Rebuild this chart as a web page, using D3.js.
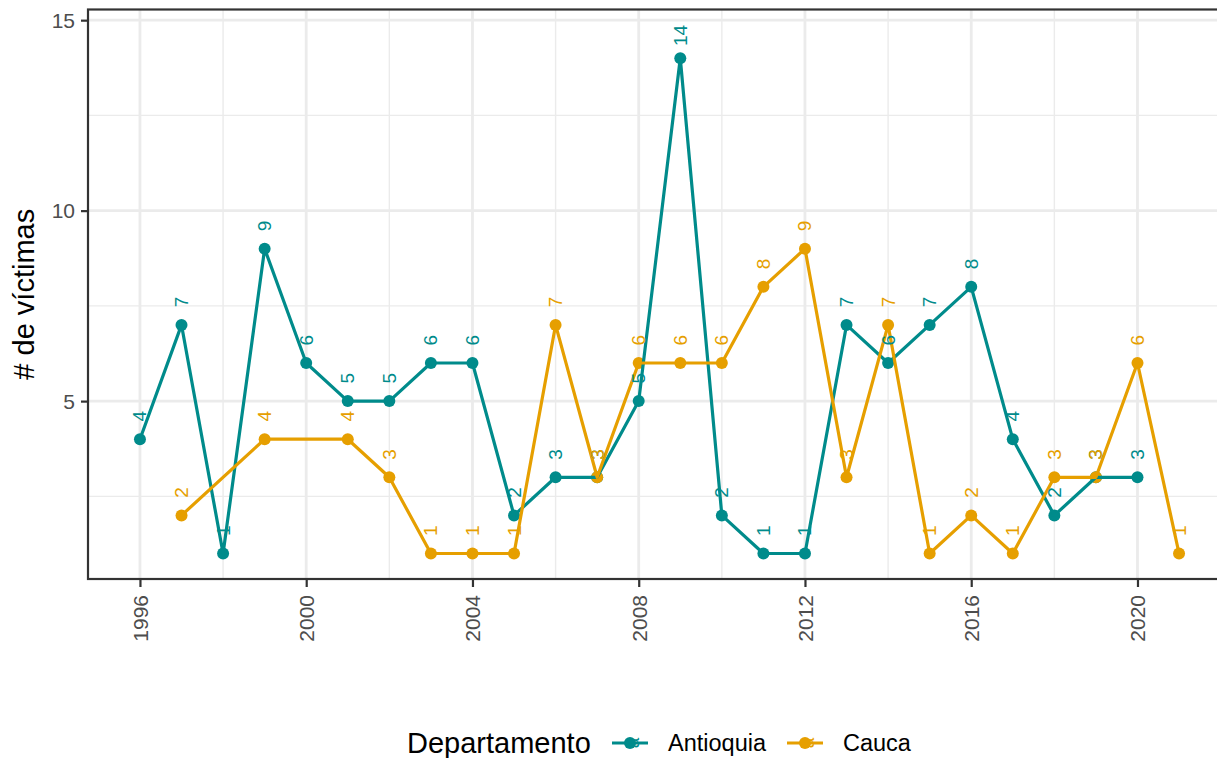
<!DOCTYPE html>
<html><head><meta charset="utf-8">
<script src="https://cdn.jsdelivr.net/npm/d3@7"></script>
<style>body{margin:0;background:#fff} svg{display:block}</style>
</head><body>
<script>
const antioquiaYears = [1996,1997,1998,1999,2000,2001,2002,2003,2004,2005,2006,2007,2008,2009,2010,2011,2012,2013,2014,2015,2016,2017,2018,2019,2020];
const antioquiaValues = [4,7,1,9,6,5,5,6,6,2,3,3,5,14,2,1,1,7,6,7,8,4,2,3,3];
const caucaYears = [1997,1999,2001,2002,2003,2004,2005,2006,2007,2008,2009,2010,2011,2012,2013,2014,2015,2016,2017,2018,2019,2020,2021];
const caucaValues = [2,4,4,3,1,1,1,7,3,6,6,6,8,9,3,7,1,2,1,3,3,6,1];
const seriesNames = ["Antioquia","Cauca"];
const seriesColors = ["#008B8B","#E69F00"];
const xTicks = [1996,2000,2004,2008,2012,2016,2020];
const xMinorTicks = [1998,2002,2006,2010,2014,2018,2022];
const yTicks = [5,10,15];
const yMinorTicks = [2.5,7.5,12.5];
const legendTitle = "Departamento";
const yTitle = "# de víctimas";

const W = 1217, H = 758;
const FONT = "'Liberation Sans', Arial, Helvetica, sans-serif";
const svg = d3.select("body").append("svg").attr("width", W).attr("height", H)
  .style("font-family", FONT);

const L = 88, R = 1231, T = 9.5, B = 579;
const x = d3.scaleLinear().domain([1994.75, 2022.25]).range([L, R]);
const y = d3.scaleLinear().domain([0.33, 15.28]).range([B, T]);

const series = [
  {name: seriesNames[0], color: seriesColors[0], data: antioquiaYears.map((yr,i)=>({yr, v: antioquiaValues[i]}))},
  {name: seriesNames[1], color: seriesColors[1], data: caucaYears.map((yr,i)=>({yr, v: caucaValues[i]}))}
];

// clip
svg.append("defs").append("clipPath").attr("id","panel")
  .append("rect").attr("x", L).attr("y", T).attr("width", R-L).attr("height", B-T);

const panel = svg.append("g").attr("clip-path","url(#panel)");
// minor grid
panel.selectAll(".gxm").data(xMinorTicks).join("line")
  .attr("x1", d=>x(d)).attr("x2", d=>x(d)).attr("y1", T).attr("y2", B)
  .attr("stroke","#EBEBEB").attr("stroke-width",1.4);
panel.selectAll(".gym").data(yMinorTicks).join("line")
  .attr("y1", d=>y(d)).attr("y2", d=>y(d)).attr("x1", L).attr("x2", R)
  .attr("stroke","#EBEBEB").attr("stroke-width",1.4);
// major grid
panel.selectAll(".gx").data(xTicks).join("line")
  .attr("x1", d=>x(d)).attr("x2", d=>x(d)).attr("y1", T).attr("y2", B)
  .attr("stroke","#EBEBEB").attr("stroke-width",2.8);
panel.selectAll(".gy").data(yTicks).join("line")
  .attr("y1", d=>y(d)).attr("y2", d=>y(d)).attr("x1", L).attr("x2", R)
  .attr("stroke","#EBEBEB").attr("stroke-width",2.8);

// points
series.forEach(s => {
  panel.append("g").selectAll("circle").data(s.data).join("circle")
    .attr("cx", d=>x(d.yr)).attr("cy", d=>y(d.v)).attr("r", 6).attr("fill", s.color);
});
// lines
const line = d3.line().x(d=>x(d.yr)).y(d=>y(d.v));
series.forEach(s => {
  panel.append("path").datum(s.data).attr("d", line)
    .attr("fill","none").attr("stroke", s.color).attr("stroke-width",3.2)
    .attr("stroke-linejoin","round");
});
// labels
series.forEach(s => {
  panel.append("g").selectAll("text").data(s.data).join("text")
    .attr("transform", d=>`translate(${x(d.yr)},${y(d.v+0.6)}) rotate(-90)`)
    .attr("text-anchor","middle").attr("dominant-baseline","central")
    .attr("font-size", 19).attr("fill", s.color).text(d=>d.v);
});

// border
svg.append("rect").attr("x", L).attr("y", T).attr("width", R-L).attr("height", B-T)
  .attr("fill","none").attr("stroke","#333333").attr("stroke-width",2.2);

// axes
const yAxis = svg.append("g").attr("transform",`translate(${L},0)`)
  .call(d3.axisLeft(y).tickValues(yTicks).tickSize(7).tickPadding(6).tickFormat(d3.format("d")));
yAxis.select(".domain").remove();
yAxis.selectAll(".tick line").attr("stroke","#333333").attr("stroke-width",2.2);
yAxis.selectAll(".tick text").attr("fill","#4D4D4D").attr("font-size",21)
  .attr("font-family", FONT).attr("dy","0.35em");

const xAxis = svg.append("g").attr("transform",`translate(0,${B})`)
  .call(d3.axisBottom(x).tickValues(xTicks).tickSize(8).tickFormat(d3.format("d")));
xAxis.select(".domain").remove();
xAxis.selectAll(".tick line").attr("stroke","#333333").attr("stroke-width",2.2);
xAxis.selectAll(".tick text").attr("fill","#4D4D4D").attr("font-size",21)
  .attr("font-family", FONT)
  .attr("transform","translate(0,16) rotate(-90)")
  .attr("text-anchor","end").attr("dy","0.35em").attr("y",0).attr("x",0);

// y title
svg.append("text").attr("transform",`translate(24,${(T+B)/2}) rotate(-90)`)
  .attr("text-anchor","middle").attr("dominant-baseline","central")
  .attr("font-size",29).attr("fill","#000").text(yTitle);

// legend
const lg = svg.append("g");
lg.append("text").attr("x",407).attr("y",753).attr("font-size",29).attr("fill","#000").text(legendTitle);
const keyX = [612, 787];
const keyY = 743;
series.forEach((s,i)=>{
  const g = lg.append("g").attr("transform",`translate(${keyX[i]},${keyY})`);
  g.append("circle").attr("cx",18).attr("cy",0).attr("r",6).attr("fill",s.color);
  g.append("line").attr("x1",0).attr("x2",36).attr("y1",0).attr("y2",0)
    .attr("stroke",s.color).attr("stroke-width",3.2);
  g.append("text").attr("transform","translate(20,0) rotate(-90)")
    .attr("text-anchor","middle").attr("dominant-baseline","central")
    .attr("font-size",19).attr("fill",s.color).text("a");
  g.append("text").attr("x",56).attr("y",0).attr("dy","0.35em")
    .attr("font-size",23.5).attr("fill","#000").text(s.name);
});
</script>
</body></html>
